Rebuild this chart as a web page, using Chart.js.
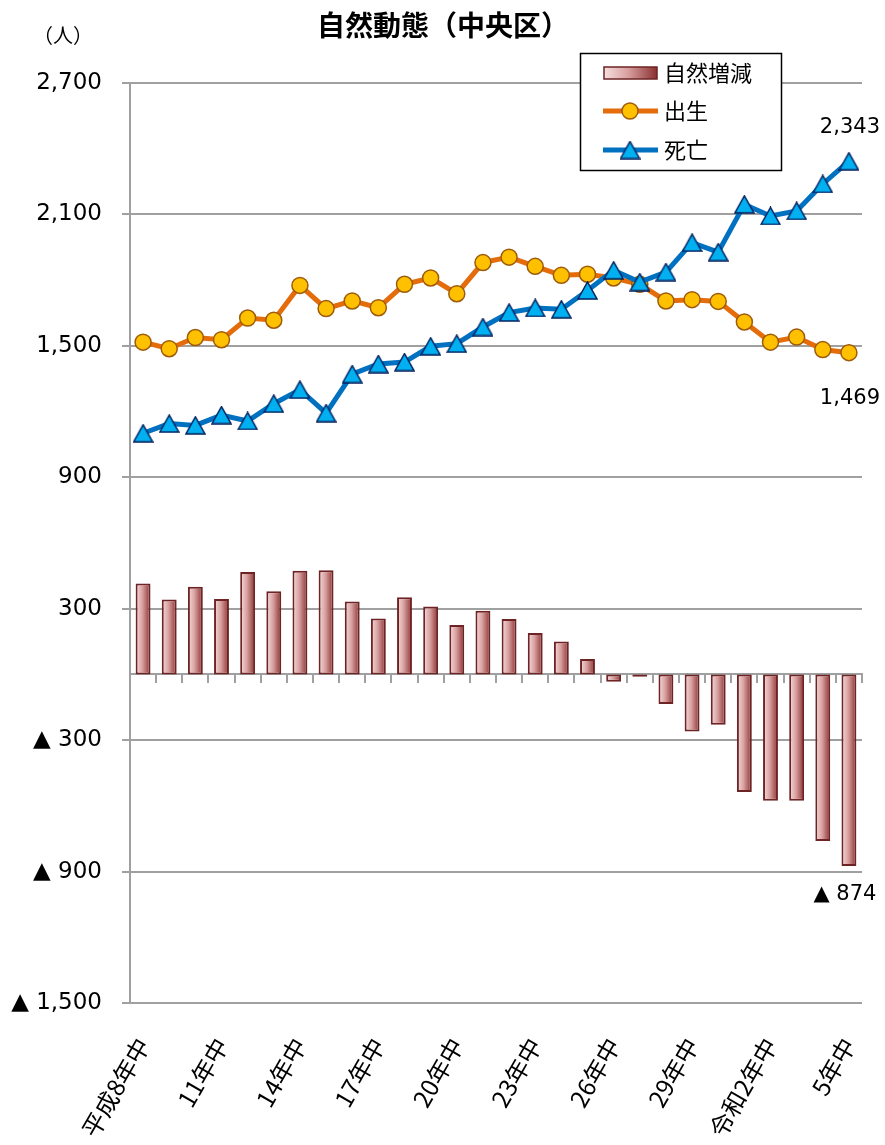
<!DOCTYPE html>
<html lang="ja">
<head>
<meta charset="utf-8">
<title>自然動態（中央区）</title>
<script src="https://cdn.jsdelivr.net/npm/chart.js@4.4.1/dist/chart.umd.min.js"></script>
<style>
  html, body { margin: 0; padding: 0; background: #fff; }
  #wrap { position: relative; width: 885px; height: 1145px; }
</style>
</head>
<body>
<div id="wrap"><canvas id="chart" width="885" height="1145"></canvas></div>
<script>
// 年次（平成8年中〜令和5年中）
const years = [
  '平成8年中', '9年中', '10年中', '11年中', '12年中', '13年中', '14年中',
  '15年中', '16年中', '17年中', '18年中', '19年中', '20年中', '21年中',
  '22年中', '23年中', '24年中', '25年中', '26年中', '27年中', '28年中',
  '29年中', '30年中', '令和元年中', '令和2年中', '3年中', '4年中', '5年中'
];
const births = [1517, 1487, 1538, 1528, 1627, 1617, 1776, 1670, 1705, 1674, 1781, 1810, 1738, 1880,
                1905, 1863, 1822, 1827, 1810, 1781, 1705, 1711, 1703, 1609, 1517, 1540, 1483, 1469];
const deaths = [1101, 1145, 1137, 1184, 1157, 1236, 1300, 1193, 1371, 1417, 1426, 1498, 1510, 1586,
                1652, 1673, 1667, 1753, 1845, 1791, 1837, 1971, 1928, 2146, 2093, 2116, 2239, 2343];
const natural = [415, 342, 400, 344, 468, 380, 473, 476, 333, 255, 352, 310, 226, 291,
                 253, 189, 150, 70, -33, -11, -135, -260, -230, -537, -577, -577, -760, -874];
const yTicks = [-1500, -900, -300, 300, 900, 1500, 2100, 2700];

const JP = "'Noto Sans CJK JP', 'Noto Sans', sans-serif";
const NUM = "'DejaVu Sans', Verdana, sans-serif";

function fmt(v) {
  return v < 0 ? '▲ ' + Math.abs(v).toLocaleString('en-US') : v.toLocaleString('en-US');
}

// 三角マーカー（外接枠の中心がデータ点）
const tri = document.createElement('canvas');
tri.width = 21; tri.height = 19;
(function () {
  const c = tri.getContext('2d');
  c.beginPath();
  c.moveTo(1, 18); c.lineTo(10.5, 1); c.lineTo(20, 18); c.closePath();
  c.fillStyle = '#00B0F0'; c.fill();
  c.lineWidth = 1.5; c.strokeStyle = '#002060'; c.stroke();
})();

function barGradient(ctx, left, right) {
  const g = ctx.createLinearGradient(left, 0, right, 0);
  g.addColorStop(0, '#F6DEDE');
  g.addColorStop(0.45, '#D9A0A0');
  g.addColorStop(1, '#8A3030');
  return g;
}

function noPad(s) { s.paddingLeft = 0; s.paddingRight = 0; }

const extras = {
  id: 'extras',
  beforeDatasetsDraw(chart) {
    chart.data.datasets.forEach((ds, i) => {
      if (ds.type !== 'bar') return;
      chart.getDatasetMeta(i).data.forEach(el => {
        el.options.backgroundColor = barGradient(chart.ctx, el.x - el.width / 2, el.x + el.width / 2);
      });
    });
  },
  afterDatasetsDraw(chart) {
    const ctx = chart.ctx;
    const last = years.length - 1;
    const d = chart.getDatasetMeta(1).data[last];
    const b = chart.getDatasetMeta(0).data[last];
    const n = chart.getDatasetMeta(2).data[last];
    ctx.save();
    ctx.fillStyle = '#000';
    ctx.font = '21px ' + NUM;
    ctx.textAlign = 'center';
    ctx.textBaseline = 'middle';
    ctx.fillText(fmt(deaths[last]), d.x + 1, d.y - 34);
    ctx.fillText(fmt(births[last]), b.x + 1, b.y + 46);
    ctx.fillText(fmt(natural[last]), n.x - 4, n.y + 29);
    ctx.restore();
  },
  afterDraw(chart) {
    const ctx = chart.ctx;
    ctx.save();
    ctx.fillStyle = '#000';
    ctx.textBaseline = 'middle';
    // タイトル・単位
    ctx.textAlign = 'center';
    ctx.font = 'bold 28px ' + JP;
    ctx.fillText('自然動態（中央区）', 443, 25);
    ctx.textAlign = 'left';
    ctx.font = '20px ' + JP;
    ctx.fillText('（人）', 33, 35);

    // 凡例
    ctx.fillStyle = '#fff';
    ctx.fillRect(580.5, 53.5, 201, 117);
    ctx.strokeStyle = '#000';
    ctx.lineWidth = 1.5;
    ctx.strokeRect(580.5, 53.5, 201, 117);

    ctx.fillStyle = barGradient(ctx, 604, 657);
    ctx.fillRect(604, 67, 53, 12);
    ctx.strokeStyle = '#6E2424';
    ctx.lineWidth = 1.5;
    ctx.strokeRect(604, 67, 53, 12);

    ctx.lineWidth = 5;
    ctx.strokeStyle = '#E46C0A';
    ctx.beginPath(); ctx.moveTo(603, 111); ctx.lineTo(658, 111); ctx.stroke();
    ctx.beginPath(); ctx.arc(630, 111, 8, 0, Math.PI * 2);
    ctx.fillStyle = '#FFC000'; ctx.fill();
    ctx.lineWidth = 1.5; ctx.strokeStyle = '#9E5B0A'; ctx.stroke();

    ctx.lineWidth = 5;
    ctx.strokeStyle = '#0070C0';
    ctx.beginPath(); ctx.moveTo(603, 150); ctx.lineTo(658, 150); ctx.stroke();
    ctx.drawImage(tri, 630 - tri.width / 2, 150 - tri.height / 2);

    ctx.fillStyle = '#000';
    ctx.font = '22px ' + JP;
    ctx.fillText('自然増減', 664, 73);
    ctx.fillText('出生', 664, 111);
    ctx.fillText('死亡', 664, 150);
    ctx.restore();
  }
};

new Chart(document.getElementById('chart'), {
  data: {
    labels: years,
    datasets: [
      {
        type: 'line', label: '出生', data: births, order: 2,
        borderColor: '#E46C0A', borderWidth: 5, tension: 0,
        pointStyle: 'circle', pointRadius: 8,
        pointBackgroundColor: '#FFC000', pointBorderColor: '#9E5B0A', pointBorderWidth: 1.5
      },
      {
        type: 'line', label: '死亡', data: deaths, order: 1,
        borderColor: '#0070C0', borderWidth: 5, tension: 0,
        pointStyle: tri, pointRadius: 10
      },
      {
        type: 'bar', label: '自然増減', data: natural, order: 3,
        backgroundColor: () => '#D9A0A0',
        borderColor: '#6E2424', borderWidth: 2, borderSkipped: false,
        barPercentage: 0.57, categoryPercentage: 1
      }
    ]
  },
  options: {
    responsive: false,
    animation: false,
    devicePixelRatio: 1,
    layout: { padding: { top: 83, right: 23, left: 0, bottom: 0 } },
    plugins: { legend: { display: false }, tooltip: { enabled: false } },
    scales: {
      x: {
        offset: true,
        grid: { display: false },
        border: { display: false },
        afterFit(s) { s.height = 142; noPad(s); },
        ticks: {
          autoSkip: false, minRotation: 60, maxRotation: 60, padding: 22,
          color: '#000', font: { family: JP, size: 24 },
          callback(v, i) { return i % 3 === 0 ? this.getLabelForValue(v) : ''; }
        }
      },
      x0: {
        type: 'category', position: { y: 0 }, offset: true,
        afterFit: noPad,
        grid: { offset: true, drawOnChartArea: false, tickLength: 8, color: '#A0A0A0', lineWidth: 2 },
        border: { display: true, color: '#A0A0A0', width: 2 },
        ticks: { display: false }
      },
      y: {
        min: -1500, max: 2700,
        afterBuildTicks(s) { s.ticks = yTicks.map(v => ({ value: v })); },
        afterFit(s) { s.width = 130; },
        grid: { color: '#A0A0A0', lineWidth: 2, tickLength: 8 },
        border: { display: true, color: '#A0A0A0', width: 2 },
        ticks: {
          padding: 20, color: '#000', font: { family: NUM, size: 23 },
          callback: v => fmt(v)
        }
      }
    }
  },
  plugins: [extras]
});
</script>
</body>
</html>
